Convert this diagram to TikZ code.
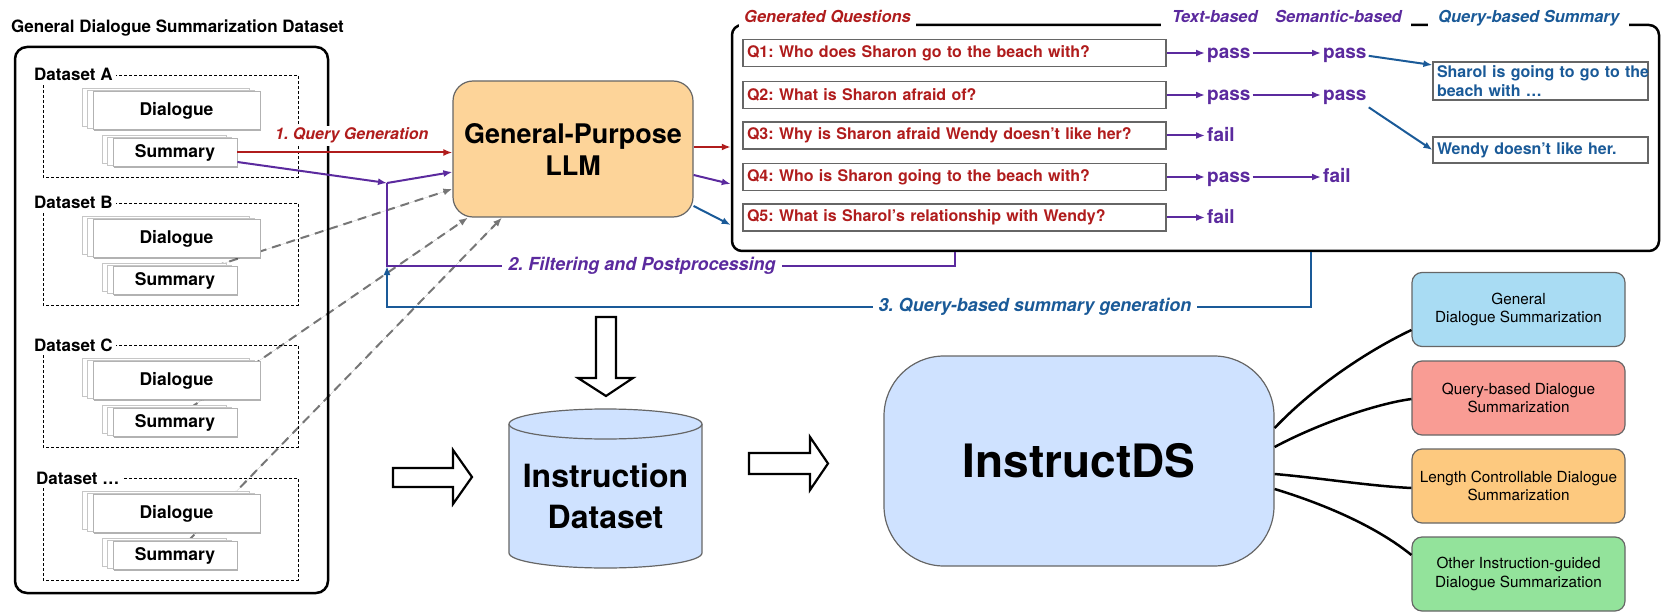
\documentclass[tikz,border=0pt]{standalone}
\usepackage{fontspec}
\setmainfont{TeX Gyre Heros}
\usetikzlibrary{arrows.meta,shadows,calc}
\definecolor{qred}{HTML}{B01C1C}
\definecolor{qpurple}{HTML}{5B2A9E}
\definecolor{qblue}{HTML}{1A5A98}
\definecolor{llmfill}{HTML}{FDD499}
\definecolor{idsfill}{HTML}{CFE2FF}
\definecolor{dashgray}{HTML}{767676}
\definecolor{boxgray}{HTML}{666666}
\definecolor{rone}{HTML}{A9DCF3}
\definecolor{rtwo}{HTML}{F99C94}
\definecolor{rthree}{HTML}{FDC97F}
\definecolor{rfour}{HTML}{93E39B}
\newcommand{\fsz}[2]{\fontsize{#1}{#2}\selectfont}
\pgfdeclarelayer{background}
\pgfsetlayers{background,main}
\frenchspacing
\begin{document}
\frenchspacing
\begin{tikzpicture}[x=1pt,y=-1pt,
  arrowhd/.style={-{Latex[length=9pt,width=7pt]}},
  redarrow/.style={arrowhd, draw=qred, line width=2pt},
  purplearrow/.style={arrowhd, draw=qpurple, line width=2pt},
  bluearrow/.style={arrowhd, draw=qblue, line width=2pt},
  purpleline/.style={draw=qpurple, line width=2pt},
  grayarrow/.style={-{Latex[length=9pt,width=7pt]}, draw=dashgray, fill=dashgray, line width=2pt, dash pattern=on 9pt off 6pt},
  sheet/.style={draw=gray!60, line width=0.8pt, fill=white,
     copy shadow={shadow xshift=-11pt, shadow yshift=3pt, draw=gray!45, fill=white, line width=0.8pt},
     copy shadow={shadow xshift=-5.5pt, shadow yshift=1.5pt, draw=gray!45, fill=white, line width=0.8pt},
     drop shadow={shadow xshift=0.6pt, shadow yshift=-1.6pt, fill=black, opacity=0.3},
     font=\fsz{17.5}{20}\bfseries, inner sep=0pt},
  dsframe/.style={draw=black, line width=0.7pt, dash pattern=on 3pt off 2pt},
  dslabel/.style={anchor=base west, fill=white, inner xsep=3pt, inner ysep=4pt, font=\fsz{17}{20}\bfseries},
  hdr/.style={anchor=base west, fill=white, inner ysep=4pt, font=\fsz{16.5}{20}\bfseries\itshape},
  qbox/.style={draw=boxgray, line width=1.2pt, fill=white, text=qred, font=\fsz{16}{19}\bfseries,
     minimum height=27pt, text width=415pt, inner xsep=4pt, inner ysep=0pt, align=left},
  res/.style={anchor=base west, inner sep=2pt, text=qpurple, font=\fsz{19}{22}\bfseries},
  sumbox/.style={draw=boxgray, line width=1.2pt, fill=white, text=qblue, font=\fsz{16}{19}\bfseries,
     text width=207pt, inner xsep=4pt, inner ysep=0pt, align=left},
  steplab/.style={fill=white, inner xsep=6pt, inner ysep=3pt, font=\fsz{18}{21}\bfseries\itshape},
  rbox/.style={draw=boxgray, line width=1.2pt, rounded corners=10pt, minimum width=213pt, minimum height=74pt,
     align=center, font=\fsz{15.3}{18.7}},
  conn/.style={draw=black, line width=2.5pt},
  hollow/.style={draw=black, line width=2.2pt, fill=white, line join=miter}
]
\useasboundingbox (0,0) rectangle (1661,612);

% ---------- left panel ----------
\node[anchor=base west, inner sep=0pt, font=\fsz{17}{20}\bfseries] (title) at (11,33) {General Dialogue Summarization Dataset};
\draw[line width=2.5pt, rounded corners=12pt] (15,47) rectangle (328,593);

\draw[dsframe] (43,75) rectangle (298,177);
\node[dslabel] (labA) at (31,81) {Dataset A};
\node[sheet, minimum width=167pt, minimum height=38pt] (dA) at (176.5,110.5) {Dialogue};
\node[sheet, minimum width=124pt, minimum height=28pt] (sA) at (175,152.5) {Summary};

\draw[dsframe] (43,203) rectangle (298,305);
\node[dslabel] (labB) at (31,209) {Dataset B};
\node[sheet, minimum width=167pt, minimum height=38pt] (dB) at (176.5,238.5) {Dialogue};
\node[sheet, minimum width=124pt, minimum height=28pt] (sB) at (175,280.5) {Summary};

\draw[dsframe] (43,345) rectangle (298,447);
\node[dslabel] (labC) at (31,351) {Dataset C};
\node[sheet, minimum width=167pt, minimum height=38pt] (dC) at (176.5,380.5) {Dialogue};
\node[sheet, minimum width=124pt, minimum height=28pt] (sC) at (175,422.5) {Summary};

\draw[dsframe] (43,478) rectangle (298,580);
\node[dslabel] (labD) at (33,484) {Dataset …};
\node[sheet, minimum width=167pt, minimum height=38pt] (dD) at (176.5,513.5) {Dialogue};
\node[sheet, minimum width=124pt, minimum height=28pt] (sD) at (175,555.5) {Summary};

% ---------- LLM ----------
\node[draw=boxgray, line width=1.2pt, fill=llmfill, rounded corners=20pt, minimum width=240pt, minimum height=136pt,
      align=center, font=\fsz{27}{32}\bfseries] (llm) at (573,149) {General-Purpose\\LLM};

\begin{pgfonlayer}{background}
\draw[grayarrow] ([xshift=40pt]sB.north) -- ([yshift=-40pt]llm.west);
\draw[grayarrow] ([xshift=15pt]sC.north) -- ([xshift=-105pt]llm.south);
\draw[grayarrow] ([xshift=13pt]sD.north) -- ([xshift=-71pt]llm.south);
\end{pgfonlayer}

\draw[redarrow] (sA.east) -- (sA.east -| llm.west);
\node[anchor=base west, fill=white, inner sep=2pt, text=qred, font=\fsz{16}{19}\bfseries\itshape] (qglab) at (273,140) {1. Query Generation};

\coordinate (J) at (387,183);
\coordinate (F) at (387,266);
\coordinate (B) at (387,307);
\draw[purplearrow] ([yshift=-9.5pt]sA.east) -- (J);
\draw[purplearrow] (J) -- ([yshift=-23pt]llm.west);

% ---------- generated questions ----------
\node[draw, line width=2.5pt, rounded corners=10pt, minimum width=927pt, minimum height=226pt, inner sep=0pt] (gq) at (1195.5,138) {};
\node[hdr, text=qred, inner xsep=5pt] (hgq) at (739,22.5) {Generated Questions};
\node[hdr, text=qpurple, inner xsep=11pt] (htb) at (1161,22.5) {Text-based};
\node[hdr, text=qpurple, inner xsep=9pt] (hsb) at (1266,22.5) {Semantic-based};
\node[hdr, text=qblue, inner xsep=10pt] (hqs) at (1428,22.5) {Query-based Summary};

\draw[redarrow] ([yshift=2pt]llm.east) -- ([yshift=2pt]llm.east -| gq.west);
\draw[purplearrow] ([yshift=-26pt]llm.east) -- ([yshift=-46pt]gq.west);
\draw[bluearrow] ([yshift=-57pt]llm.east) -- ([yshift=-87pt]gq.west);

\node[qbox] (q1) at (954.5,53) {Q1: Who does Sharon go to the beach with?};
\node[qbox] (q2) at (954.5,95) {Q2: What is Sharon afraid of?};
\node[qbox] (q3) at (954.5,135.5) {Q3: Why is Sharon afraid Wendy doesn’t like her?};
\node[qbox] (q4) at (954.5,177) {Q4: Who is Sharon going to the beach with?};
\node[qbox] (q5) at (954.5,217.5) {Q5: What is Sharol’s relationship with Wendy?};

\node[res] (t1) at (1205,59) {pass};
\node[res] (t2) at (1205,101) {pass};
\node[res] (t3) at (1205,141.5) {fail};
\node[res] (t4) at (1205,183) {pass};
\node[res] (t5) at (1205,223.5) {fail};
\node[res] (s1) at (1321,59) {pass};
\node[res] (s2) at (1321,101) {pass};
\node[res] (s4) at (1321,183) {fail};

\foreach \i in {1,...,5}{\draw[purplearrow] (q\i.east) -- (q\i.east -| t\i.west);}
\draw[purplearrow] (t1.east |- q1.east) -- (s1.west |- q1.east);
\draw[purplearrow] (t2.east |- q2.east) -- (s2.west |- q2.east);
\draw[purplearrow] (t4.east |- q4.east) -- (s4.west |- q4.east);

\node[sumbox, minimum height=38pt] (sum1) at (1540.5,81) {\mbox{Sharol is going to go to the}\\beach with …};
\node[sumbox, minimum height=26pt] (sum2) at (1540.5,150) {Wendy doesn’t like her.};
\draw[bluearrow] (s1.east) -- ([yshift=16pt]sum1.west);
\draw[bluearrow] (s2.south east) -- (sum2.west);

% ---------- feedback loops ----------
\draw[purpleline] (q5.south |- gq.south) |- (F) -- (J);
\node[steplab, text=qpurple] (lab2) at (642,266) {2. Filtering and Postprocessing};
\draw[bluearrow] ([xshift=115.5pt]gq.south) |- (B) -- (F);
\node[steplab, text=qblue] (lab3) at (1035,307) {3. Query-based summary generation};

% ---------- hollow arrows ----------
\draw[hollow] (596,317) -- (616,317) -- (616,378) -- (633,378) -- (606,396) -- (578,378) -- (596,378) -- cycle;
\draw[hollow] (393,468) -- (453,468) -- (453,450) -- (472,477) -- (453,504) -- (453,487) -- (393,487) -- cycle;
\draw[hollow] (749,453) -- (810,453) -- (810,437) -- (828,463.5) -- (810,490) -- (810,474) -- (749,474) -- cycle;

% ---------- instruction dataset cylinder ----------
\fill[idsfill] (509,424) rectangle (702,553);
\fill[idsfill] (605.5,553) ellipse [x radius=96.5, y radius=15];
\draw[line width=1.2pt, draw=boxgray] (509,424) -- (509,553) .. controls (509,561.3) and (552.2,568) .. (605.5,568)
   .. controls (658.8,568) and (702,561.3) .. (702,553) -- (702,424);
\draw[line width=1.2pt, draw=boxgray, fill=idsfill] (605.5,424) ellipse [x radius=96.5, y radius=15];
\node[align=center, font=\fsz{32}{41}\bfseries, inner sep=0pt] (db) at (605.5,496) {Instruction\\Dataset};

% ---------- InstructDS ----------
\node[draw=boxgray, line width=1.2pt, fill=idsfill, rounded corners=60pt, minimum width=390pt, minimum height=210pt,
      font=\fsz{46}{50}\bfseries] (ids) at (1079,461) {InstructDS};

\node[rbox, fill=rone] (r1) at (1518.5,309.5) {General\\Dialogue Summarization};
\node[rbox, fill=rtwo] (r2) at (1518.5,398) {Query-based Dialogue\\Summarization};
\node[rbox, fill=rthree] (r3) at (1518.5,486) {Length Controllable Dialogue\\Summarization};
\node[rbox, fill=rfour] (r4) at (1518.5,574) {Other Instruction-guided\\Dialogue Summarization};

\draw[conn] ([yshift=33pt]ids.east) .. controls +(41,-43) and +(-42,20) .. ([yshift=-20.5pt]r1.west);
\draw[conn] ([yshift=14pt]ids.east) .. controls +(41,-22) and +(-37,5) .. ([yshift=-1pt]r2.west);
\draw[conn] ([yshift=-13pt]ids.east) .. controls +(46,4) and +(-42,-2) .. ([yshift=-2pt]r3.west);
\draw[conn] ([yshift=-28pt]ids.east) .. controls +(46,14) and +(-37,-30) .. ([yshift=19pt]r4.west);
\end{tikzpicture}
\end{document}
